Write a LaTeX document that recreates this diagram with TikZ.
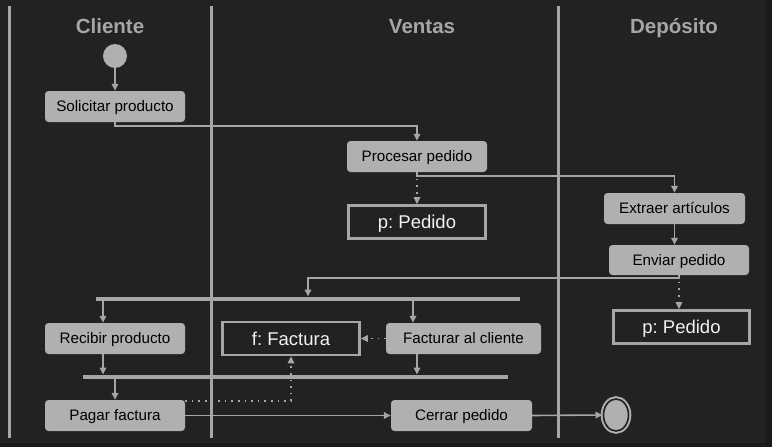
\documentclass[tikz,border=0pt]{standalone}
\usepackage{fontspec}
\setmainfont{Liberation Sans}
\usetikzlibrary{arrows.meta,
                calc,
                positioning,
                shapes.geometric}
\frenchspacing

\definecolor{bgdark}{HTML}{222222}
\definecolor{bgedge}{HTML}{1A1A1A}
\definecolor{lanegray}{HTML}{A6A6A6}
\definecolor{boxgray}{HTML}{B0B0B0}
\definecolor{objtext}{HTML}{F2F2F2}

\tikzset{
    flow/.style = {draw = lanegray, line width = 1.6pt, -{Triangle[length = 7pt, width = 6.5pt]}},
    dotflow/.style = {flow, dash pattern = on 1.6pt off 5pt},
    lane/.style = {draw = lanegray, line width = 3pt},
    lanetitle/.style = {anchor = base, text = lanegray, font = \fontsize{20.5}{24}\selectfont\bfseries},
    task/.style = {rectangle, rounded corners = 3.5pt, fill = boxgray, text = black,
                   minimum width = 140pt, minimum height = 31pt, inner sep = 0pt,
                   text height = 11pt, text depth = 1pt, font = \fontsize{15.2}{18}\selectfont},
    objbox/.style = {rectangle, draw = lanegray, line width = 2.6pt, fill = bgdark, text = objtext,
                     minimum width = 137pt, minimum height = 33pt, inner sep = 0pt,
                     text height = 13pt, text depth = 0pt, font = \fontsize{18.5}{22}\selectfont},
    syncbar/.style = {rectangle, fill = lanegray, minimum height = 4.5pt, inner sep = 0pt},
    startdot/.style = {circle, fill = boxgray, minimum size = 24pt, inner sep = 0pt},
    enddot/.style = {ellipse, draw = boxgray, line width = 2pt, fill = boxgray, inner sep = 0pt,
                     minimum width = 25pt, minimum height = 32pt, double = bgdark, double distance = 1.6pt}
}

\begin{document}
\begin{tikzpicture}%
    [x = 1pt, y = -1pt]
    \fill[bgedge] (0,0) rectangle (772,447);
    \fill[bgdark] (0,0) rectangle (766,443);
    \useasboundingbox (0,0) rectangle (772,447);

    % swimlanes
    \draw[lane] (9,6) -- (9,438);
    \draw[lane] (211,6) -- (211,438);
    \draw[lane] (558,6) -- (558,438);
    \node[lanetitle] (tcliente) at (110,33) {Cliente};
    \node[lanetitle] (tventas) at (422,33) {Ventas};
    \node[lanetitle] (tdeposito) at (674,33) {Depósito};

    % nodes
    \node[startdot] (inicio) at (115,56) {};
    \node[task] (solicitar) at (115,106.5) {Solicitar producto};
    \node[task] (procesar) at (417,156.5) {Procesar pedido};
    \node[objbox] (pedidoA) at (417,222) {p: Pedido};
    \node[task, minimum width = 141pt] (extraer) at (674.5,208.5) {Extraer artículos};
    \node[task, minimum height = 30pt] (enviar) at (679,260) {Enviar pedido};
    \node[objbox, minimum width = 136pt] (pedidoB) at (681.5,327) {p: Pedido};
    \node[syncbar, minimum width = 424pt] (fork) at (308,299) {};
    \node[task] (recibir) at (115,338.5) {Recibir producto};
    \node[objbox] (factura) at (291,338.5) {f: Factura};
    \node[task, minimum width = 155pt] (facturar) at (463.5,338.5) {Facturar al cliente};
    \node[syncbar, minimum width = 425pt] (join) at (295.5,377) {};
    \node[task] (pagar) at (115,415.5) {Pagar factura};
    \node[task, minimum width = 141pt] (cerrar) at (461.5,415.5) {Cerrar pedido};
    \node[enddot] (fin) at (616,415) {};

    \coordinate (recx) at ($(recibir.north)+(-12,0)$);
    \coordinate (facx) at ($(facturar.north)+(-50.5,0)$);
    \coordinate (facy) at ($(facturar.south)+(-46.5,0)$);
    \coordinate (pagy) at ($(pagar.north east)+(0,1)$);

    % connectors
    \draw[flow] (inicio) -- (solicitar);
    \draw[flow] (solicitar.south) -- ++(0,4) -| (procesar.north);
    \draw[dotflow] (procesar.south) -- (pedidoA.north);
    \draw[flow] (procesar.south) -- ++(0,4) -| (extraer.north);
    \draw[flow] (extraer.south) -- (extraer.south |- enviar.north);
    \draw[dotflow] (enviar.south) -- (enviar.south |- pedidoB.north);
    \draw[flow] (enviar.south) -- ++(0,3) -| (fork.north);
    \draw[flow] (fork.south -| recx) -- (recx);
    \draw[flow] (fork.south -| facx) -- (facx);
    \draw[dotflow] (facturar.west) -- (factura.east);
    \draw[flow] (recibir.south -| recx) -- (join.north -| recx);
    \draw[flow] (facy) -- (join.north -| facy);
    \draw[flow] (join.south -| pagar.north) -- (pagar.north);
    \draw[dotflow] (pagy) -| (factura.south);
    \draw[flow] (pagar.east) -- (cerrar.west);
    \draw[flow] (cerrar.east) -- (fin.west);
\end{tikzpicture}
\end{document}
